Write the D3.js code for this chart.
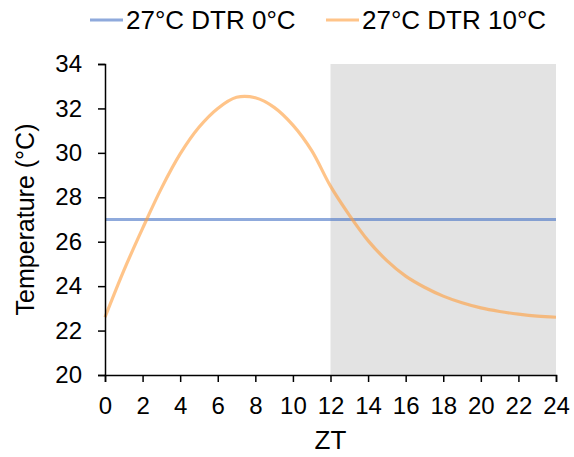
<!DOCTYPE html>
<html>
<head>
<meta charset="utf-8">
<script src="https://cdn.jsdelivr.net/npm/d3@7"></script>
<style>
	body { margin: 0; background: #fff; }
	svg text { font-family: 'Liberation Sans', Arial, sans-serif; fill: #000; }
</style>
</head>
<body>
<svg width="574" height="457"></svg>
<script>
const zt = [0, 1, 2, 3, 4, 5, 6, 7, 8, 9, 10, 11, 12, 13, 14, 15, 16, 17, 18, 19, 20, 21, 22, 23, 24];
const dtr0 = [27, 27, 27, 27, 27, 27, 27, 27, 27, 27, 27, 27, 27, 27, 27, 27, 27, 27, 27, 27, 27, 27, 27, 27, 27];
const dtr10 = [22.6, 24.7, 26.6, 28.4, 29.95, 31.15, 32.0, 32.5, 32.48, 32.05, 31.25, 30.1, 28.5, 27.2, 26.05, 25.15, 24.45, 23.95, 23.55, 23.25, 23.02, 22.86, 22.74, 22.65, 22.6];
const seriesNames = ['27°C DTR 0°C', '27°C DTR 10°C'];
const xTicks = [0, 2, 4, 6, 8, 10, 12, 14, 16, 18, 20, 22, 24];
const yTicks = [20, 22, 24, 26, 28, 30, 32, 34];
const darkPhase = [12, 24];

const svg = d3.select('svg');
const margin = {top: 64, right: 18, bottom: 82, left: 105};
const width = 574 - margin.left - margin.right;
const height = 457 - margin.top - margin.bottom;

const x = d3.scaleLinear().domain([0, 24]).range([0, width]);
const y = d3.scaleLinear().domain([20, 34]).range([height, 0]);

const g = svg.append('g')
	.attr('transform', 'translate(' + margin.left + ',' + margin.top + ')');

// night shading
g.append('rect')
	.attr('x', x(darkPhase[0]))
	.attr('y', y(34))
	.attr('width', x(darkPhase[1]) - x(darkPhase[0]))
	.attr('height', y(20) - y(34))
	.attr('fill', '#e3e3e3');

const line = d3.line()
	.x((d, i) => x(zt[i]))
	.y(d => y(d))
	.curve(d3.curveCatmullRom);

const colors = ['#4472c4', '#ff9f40'];
const opac = [0.6, 0.62];

[dtr0, dtr10].forEach((s, k) => {
	g.append('path')
		.datum(s)
		.attr('fill', 'none')
		.attr('stroke', colors[k])
		.attr('stroke-opacity', opac[k])
		.attr('stroke-width', 3.2)
		.attr('d', line);
});

const xAxis = g.append('g')
	.attr('transform', 'translate(0,' + height + ')')
	.call(d3.axisBottom(x).tickValues(xTicks).tickSize(7).tickPadding(15));
const yAxis = g.append('g')
	.call(d3.axisLeft(y).tickValues(yTicks).tickSize(7).tickPadding(16));

[xAxis, yAxis].forEach(a => {
	a.select('.domain').attr('stroke', '#000').attr('stroke-width', 1.5);
	a.selectAll('.tick line').attr('stroke', '#000').attr('stroke-width', 1.5);
	a.selectAll('.tick text').style('font-size', '24px').attr('fill', '#000');
});

svg.append('text')
	.attr('x', margin.left + width / 2)
	.attr('y', 449)
	.attr('text-anchor', 'middle')
	.style('font-size', '26px')
	.text('ZT');

svg.append('text')
	.attr('transform', 'translate(34,' + (margin.top + height / 2) + ') rotate(-90)')
	.attr('text-anchor', 'middle')
	.style('font-size', '25px')
	.text('Temperature (°C)');

// legend
const legendX = [90, 326];
seriesNames.forEach((name, k) => {
	const lg = svg.append('g').attr('transform', 'translate(' + legendX[k] + ',20)');
	lg.append('line')
		.attr('x1', 0).attr('x2', 33)
		.attr('stroke', colors[k])
		.attr('stroke-opacity', opac[k])
		.attr('stroke-width', 3.2);
	lg.append('text')
		.attr('x', 36)
		.attr('y', 9)
		.style('font-size', '26px')
		.text(name);
});
</script>
</body>
</html>
